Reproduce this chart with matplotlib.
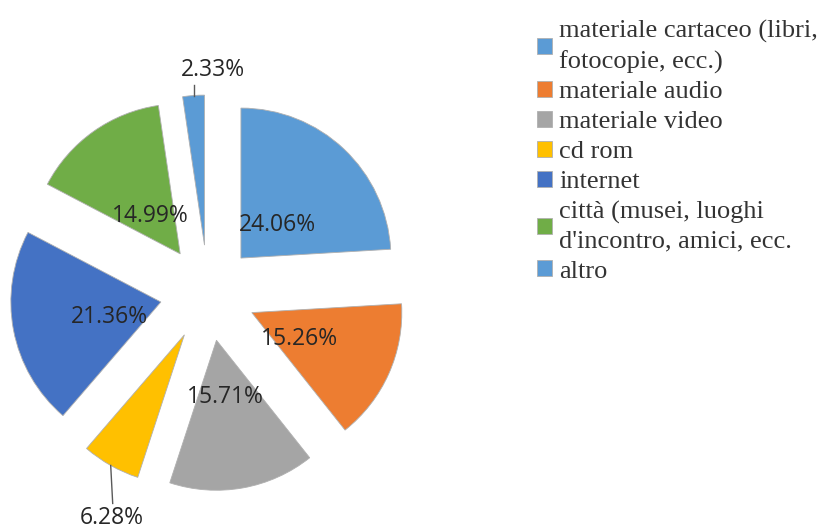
import matplotlib
matplotlib.use("Agg")
import matplotlib.pyplot as plt
import numpy as np

categories = [
    "materiale cartaceo (libri,\nfotocopie, ecc.)",
    "materiale audio",
    "materiale video",
    "cd rom",
    "internet",
    "città (musei, luoghi\nd'incontro, amici, ecc.",
    "altro",
]
values = [24.06, 15.26, 15.71, 6.28, 21.36, 14.99, 2.33]
colors = ["#5B9BD5", "#ED7D31", "#A5A5A5", "#FFC000", "#4472C4", "#70AD47", "#5B9BD5"]

W, H = 825, 532
fig = plt.figure(figsize=(W / 100, H / 100), dpi=100)
ax = fig.add_axes([0, 0, 1, 1])

center = (208, H - 293)
radius = 150
wedges, texts, autotexts = ax.pie(
    values, colors=colors, startangle=90, counterclock=False,
    explode=[48] * len(values), radius=radius, center=center,
    autopct="%.2f%%", pctdistance=0.35,
    wedgeprops=dict(edgecolor="#b0b0b0", linewidth=0.6),
    textprops=dict(fontfamily="Open Sans", fontsize=16.5, color="#262626"),
)
ax.set_xlim(0, W)
ax.set_ylim(0, H)
ax.set_aspect("equal")
ax.axis("off")

# inner labels: small downward nudge
for t in autotexts:
    px, py = t.get_position()
    t.set_position((px, py - 5))

# small slices: labels outside with leader lines
def arc_mid(w):
    th = np.deg2rad((w.theta1 + w.theta2) / 2)
    return w.center[0] + w.r * np.cos(th), w.center[1] + w.r * np.sin(th)

# cd rom (index 3) - below
x0, y0 = arc_mid(wedges[3])
ax.plot([x0, x0 + 2], [y0, y0 - 38], color="#595959", lw=1)
autotexts[3].set_position((x0 + 1, y0 - 53))
autotexts[3].set_ha("center"); autotexts[3].set_va("center")

# altro (index 6) - above
x1, y1 = arc_mid(wedges[6])
ax.plot([x1, x1], [y1, y1 + 11], color="#595959", lw=1)
autotexts[6].set_position((x1 + 19, y1 + 26))
autotexts[6].set_ha("center"); autotexts[6].set_va("center")

leg = ax.legend(
    wedges, categories, loc="upper left",
    bbox_to_anchor=(537 / W, 1 - 20 / H), bbox_transform=fig.transFigure,
    frameon=False, borderpad=0, borderaxespad=0,
    prop=dict(family="Liberation Serif", size=19),
    handlelength=0.55, handleheight=0.55, handletextpad=0.3,
    labelspacing=0.29,
)
for t in leg.get_texts():
    t.set_color("#333333")
    t.set_linespacing(1.39)
for h in leg.legend_handles:
    h.set_edgecolor("#b0b0b0")

fig.savefig("out.png", dpi=100)
